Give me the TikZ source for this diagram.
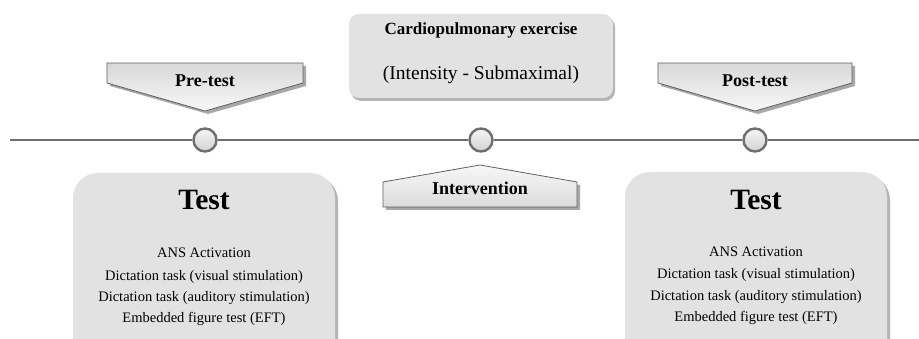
\documentclass[tikz,border=0pt]{standalone}
\usepackage{fontspec}
\setmainfont{Liberation Serif}
\usetikzlibrary{shadings}
\definecolor{linegray}{HTML}{6E6E6E}
\definecolor{boxgray}{HTML}{E2E2E2}
\definecolor{shadowgray}{HTML}{A8A8A8}
\tikzset{
  timeline/.style={draw=linegray, line width=2.6pt},
  dot/.style={circle, draw=linegray, line width=2.4pt, minimum size=23pt, inner sep=0pt,
    top color=gray!8, bottom color=gray!35},
  chev/.style={draw=gray!75!black, line width=0.8pt, top color=gray!30, bottom color=gray!6},
  chevshadow/.style={fill=shadowgray, draw=none},
  bigbox/.style={fill=boxgray, draw=none},
  boxshadow/.style={fill=shadowgray!85, draw=none},
  lbl/.style={font=\fontsize{18}{20}\selectfont\bfseries, anchor=base, inner sep=0pt},
  title/.style={font=\fontsize{29.5}{32}\selectfont\bfseries, anchor=base, inner sep=0pt},
  body/.style={font=\fontsize{14.5}{17}\selectfont, anchor=base, inner sep=0pt},
}
\begin{document}
\begin{tikzpicture}[x=1pt, y=-1pt]
\useasboundingbox (0,0) rectangle (919,339);
\clip (0,0) rectangle (919,339);
\fill[white] (0,0) rectangle (919,339);

% ---- timeline ----
\coordinate (lstart) at (10,140);
\coordinate (lend) at (919,140);
\node[dot] (c1) at (205,140) {};
\node[dot] (c2) at (481,140) {};
\node[dot] (c3) at (755,140) {};
\draw[timeline] (lstart) -- (c1) (c1) -- (c2) (c2) -- (c3) (c3) -- (lend);

% ---- Pre-test chevron ----
\fill[chevshadow] (110,66) -- (306,66) -- (306,86) -- (208,114) -- (110,86) -- cycle;
\draw[chev] (107,63) -- (303,63) -- (303,83) -- (205,111) -- (107,83) -- cycle;
\node[lbl] (pre) at (205,87) {Pre-test};

% ---- Post-test chevron ----
\fill[chevshadow] (661,66) -- (855,66) -- (855,86) -- (758,114) -- (661,86) -- cycle;
\draw[chev] (658,63) -- (852,63) -- (852,83) -- (755,111) -- (658,83) -- cycle;
\node[lbl] (post) at (755,87) {Post-test};

% ---- Intervention ----
\fill[chevshadow] (386,185) -- (483,168) -- (580,185) -- (580,210) -- (386,210) -- cycle;
\draw[chev, top color=gray!6, bottom color=gray!28] (383,182) -- (480,165) -- (577,182) -- (577,207) -- (383,207) -- cycle;
\node[lbl] (interv) at (480,195) {Intervention};

% ---- Cardiopulmonary box ----
\fill[boxshadow, rounded corners=10pt] (351,17) rectangle (615,101);
\fill[bigbox, rounded corners=10pt] (349,14) rectangle (613,98);
\node[font=\fontsize{17}{20}\selectfont\bfseries, anchor=base, inner sep=0pt] (cardio) at (481,35) {Cardiopulmonary exercise};
\node[font=\fontsize{19.5}{22}\selectfont, anchor=base, inner sep=0pt] (intens) at (481,80) {(Intensity - Submaximal)};

% ---- Left Test box ----
\fill[boxshadow, rounded corners=25pt] (76,176) rectangle (338,380);
\fill[bigbox, rounded corners=25pt] (73,173) rectangle (335,380);
\node[title] (t1) at (204,210) {Test};
\node[body] (a1) at (204,258) {ANS Activation};
\node[body] (b1) at (204,280) {Dictation task (visual stimulation)};
\node[body] (d1) at (204,301.5) {Dictation task (auditory stimulation)};
\node[body] (e1) at (204,323) {Embedded figure test (EFT)};

% ---- Right Test box ----
\fill[boxshadow, rounded corners=25pt] (628,175) rectangle (890,380);
\fill[bigbox, rounded corners=25pt] (625,172) rectangle (887,380);
\node[title] (t2) at (756,210) {Test};
\node[body] (a2) at (756,257) {ANS Activation};
\node[body] (b2) at (756,279) {Dictation task (visual stimulation)};
\node[body] (d2) at (756,300.5) {Dictation task (auditory stimulation)};
\node[body] (e2) at (756,322) {Embedded figure test (EFT)};
\end{tikzpicture}
\end{document}
